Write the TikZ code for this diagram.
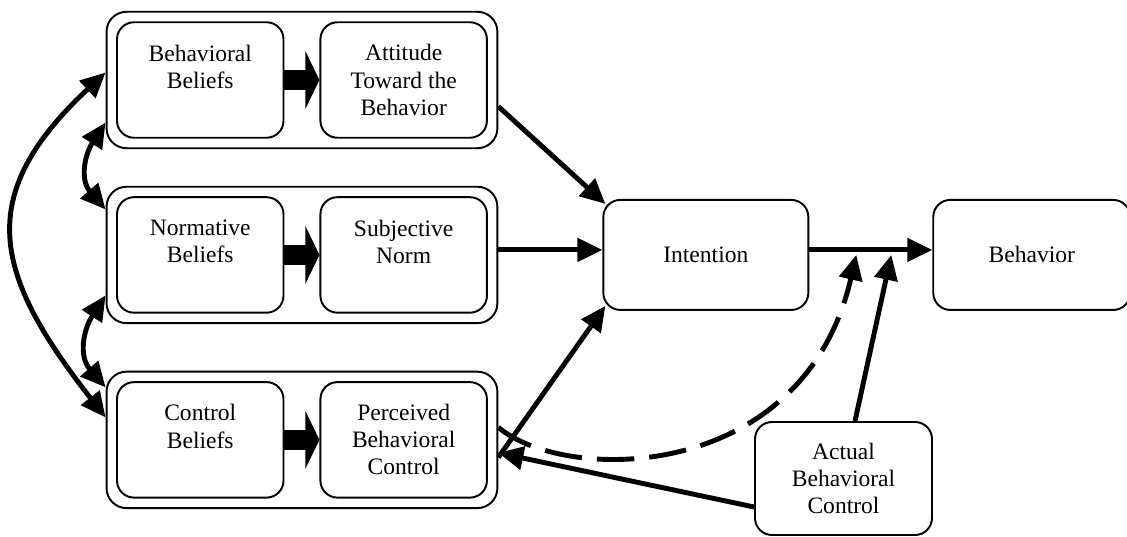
\documentclass[tikz,border=0pt]{standalone}
\usepackage{fontspec}
\setmainfont{Liberation Serif}
\usetikzlibrary{arrows.meta,positioning,fit}
\tikzset{
  tpbnode/.style = {align=center, inner sep=0pt, text centered,
    font=\fontsize{13.4}{15.4}\selectfont},
  tpb_in/.style = {tpbnode, rectangle, rounded corners=0.34cm, draw=black,
    line width=1.1pt, minimum width=3.33cm, minimum height=2.31cm},% petite boite
  tpb_grp/.style = {rectangle, rounded corners=0.4cm, draw=black,
    line width=1.1pt, inner sep=0.19cm},% boite autour d'une paire
  tpb_big/.style = {tpbnode, rectangle, rounded corners=0.34cm, draw=black,
    line width=1.1pt, minimum height=2.2cm},% grande boite
  tpb_arr/.style = {line width=2.8pt, -{Triangle[length=0.5cm,width=0.46cm]}},
  tpb_dbl/.style = {line width=2.8pt,
    {Triangle[length=0.5cm,width=0.46cm]}-{Triangle[length=0.5cm,width=0.46cm]}},
  tpb_fat/.style = {line width=0.4cm, -{Triangle[length=0.28cm,width=1.14cm]}}
}

\begin{document}
\begin{tikzpicture}
  \useasboundingbox (0,0) rectangle (22.54,-10.74);
  % les trois paires
  \node [tpb_in] (bb) at (4.005,-1.6) {Behavioral\\Beliefs\\\mbox{}};
  \node [tpb_in, right=0.7cm of bb] (att) {Attitude\\Toward the\\Behavior};
  \node [tpb_in, below=1.15cm of bb] (nb) {Normative\\Beliefs\\\mbox{}};
  \node [tpb_in, right=0.7cm of nb] (sn) {Subjective\\Norm\\\mbox{}};
  \node [tpb_in, below=1.35cm of nb] (cb) {Control\\Beliefs\\\mbox{}};
  \node [tpb_in, right=0.7cm of cb] (pbc) {Perceived\\Behavioral\\Control};
  \node [tpb_grp, fit=(bb)(att)] (grpA) {};
  \node [tpb_grp, fit=(nb)(sn)] (grpN) {};
  \node [tpb_grp, fit=(cb)(pbc)] (grpC) {};
  \draw [tpb_fat] (bb) -- (att);
  \draw [tpb_fat] (nb) -- (sn);
  \draw [tpb_fat] (cb) -- (pbc);
  % intention, comportement
  \node [tpb_big, minimum width=4.1cm, right=2.08cm of grpN] (int) {Intention};
  \node [tpb_big, minimum width=3.94cm, right=2.46cm of int] (beh) {Behavior};
  \node [tpb_big, minimum width=3.54cm, minimum height=2.26cm] (abc) at (16.87,-9.57)
    {Actual\\Behavioral\\Control};
  \coordinate (jA) at ([xshift=0.94cm]int.east);
  \coordinate (jB) at ([xshift=1.64cm]int.east);
  % fleches
  \draw [tpb_arr] ([yshift=-0.53cm]grpA.east) -- ([shift={(0.06,-0.1)}]int.north west);
  \draw [tpb_arr] ([yshift=0.1cm]grpN.east) -- ([yshift=0.1cm]int.west);
  \draw [tpb_arr] ([yshift=-0.35cm]grpC.east) -- ([shift={(0.06,0.1)}]int.south west);
  \draw [tpb_arr] ([yshift=0.1cm]int.east) -- ([yshift=0.1cm]beh.west);
  \draw [tpb_arr, dash pattern=on 0.75cm off 0.3cm] ([yshift=0.25cm]grpC.east)
    to[out=-40, in=257, out distance=1.77cm, in distance=4.68cm] (jA);
  \draw [tpb_arr] ([xshift=0.23cm]abc.north) -- (jB);
  \draw [tpb_arr] ([yshift=-0.57cm]abc.west) -- ([yshift=-0.26cm]grpC.east);
  % liens a gauche
  \draw [tpb_dbl] ([yshift=0.15cm]grpA.west) to[out=223, in=128, looseness=1.35]
    ([yshift=0.45cm]grpC.west);
  \draw [tpb_dbl] ([yshift=-0.85cm]grpA.west) to[out=237, in=131, looseness=1.15]
    ([yshift=0.91cm]grpN.west);
  \draw [tpb_dbl] ([yshift=-0.81cm]grpN.west) to[out=237, in=131, looseness=1.15]
    ([yshift=1.05cm]grpC.west);
\end{tikzpicture}
\end{document}
